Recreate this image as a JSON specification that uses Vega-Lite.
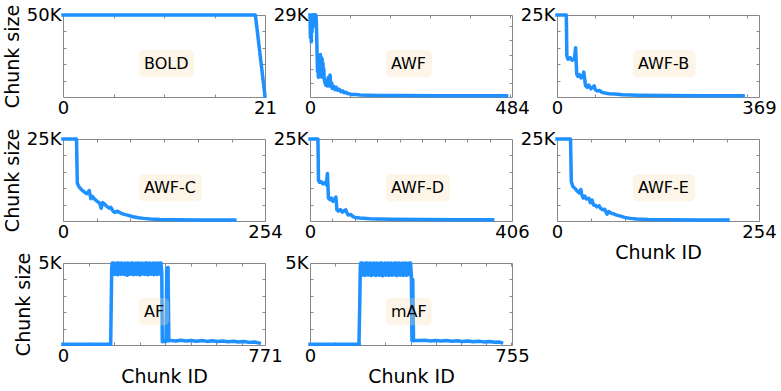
{
"$schema": "https://vega.github.io/schema/vega-lite/v6.json",
"background": "white",
"padding": {"left": 2, "top": 3, "right": 0, "bottom": 0},
"datasets": {
"labels": [
{"panel": "BOLD", "label": "BOLD"},
{"panel": "AWF", "label": "AWF"},
{"panel": "AWF-B", "label": "AWF-B"},
{"panel": "AWF-C", "label": "AWF-C"},
{"panel": "AWF-D", "label": "AWF-D"},
{"panel": "AWF-E", "label": "AWF-E"},
{"panel": "AF", "label": "AF"},
{"panel": "mAF", "label": "mAF"}
],
"BOLD": [
{"chunk":0,"size":50000},{"chunk":1,"size":50000},{"chunk":2,"size":50000},{"chunk":3,"size":50000},{"chunk":4,"size":50000},{"chunk":5,"size":50000},{"chunk":6,"size":50000},{"chunk":7,"size":50000},{"chunk":8,"size":50000},{"chunk":9,"size":50000},{"chunk":10,"size":50000},{"chunk":11,"size":50000},{"chunk":12,"size":50000},{"chunk":13,"size":50000},{"chunk":14,"size":50000},{"chunk":15,"size":50000},{"chunk":16,"size":50000},{"chunk":17,"size":50000},{"chunk":18,"size":50000},{"chunk":19,"size":50000},{"chunk":20,"size":50000},{"chunk":21,"size":500}
],
"AWF": [
{"chunk":0,"size":29000},{"chunk":1,"size":21000},{"chunk":2,"size":28500},{"chunk":3,"size":19500},{"chunk":4,"size":29000},{"chunk":5,"size":23000},{"chunk":6,"size":29000},{"chunk":7,"size":26000},{"chunk":8,"size":29000},{"chunk":9,"size":27000},{"chunk":10,"size":29000},{"chunk":11,"size":28000},{"chunk":12,"size":29000},{"chunk":13,"size":25000},{"chunk":14,"size":29000},{"chunk":15,"size":27500},{"chunk":16,"size":22000},{"chunk":17,"size":15000},{"chunk":18,"size":9000},{"chunk":19,"size":12500},{"chunk":20,"size":7000},{"chunk":21,"size":11000},{"chunk":22,"size":7500},{"chunk":23,"size":14500},{"chunk":24,"size":8000},{"chunk":25,"size":15000},{"chunk":26,"size":7200},{"chunk":27,"size":14000},{"chunk":28,"size":8500},{"chunk":29,"size":13500},{"chunk":30,"size":7000},{"chunk":31,"size":12000},{"chunk":32,"size":7500},{"chunk":33,"size":10000},{"chunk":34,"size":6500},{"chunk":36,"size":5000},{"chunk":38,"size":4200},{"chunk":40,"size":6000},{"chunk":42,"size":3900},{"chunk":44,"size":7000},{"chunk":46,"size":4000},{"chunk":48,"size":7800},{"chunk":50,"size":3600},{"chunk":52,"size":5000},{"chunk":54,"size":3000},{"chunk":57,"size":3800},{"chunk":60,"size":2600},{"chunk":63,"size":3400},{"chunk":66,"size":2400},{"chunk":70,"size":2700},{"chunk":74,"size":1900},{"chunk":78,"size":2200},{"chunk":82,"size":1500},{"chunk":86,"size":1700},{"chunk":90,"size":1200},{"chunk":95,"size":1100},{"chunk":100,"size":900},{"chunk":110,"size":850},{"chunk":120,"size":700},{"chunk":140,"size":620},{"chunk":170,"size":560},{"chunk":220,"size":500},{"chunk":300,"size":460},{"chunk":400,"size":420},{"chunk":471,"size":400}
],
"AWF-B": [
{"chunk":0,"size":25000},{"chunk":10,"size":25000},{"chunk":17,"size":25000},{"chunk":18,"size":12500},{"chunk":20,"size":11500},{"chunk":24,"size":12000},{"chunk":28,"size":11200},{"chunk":32,"size":11800},{"chunk":34,"size":15000},{"chunk":35,"size":11000},{"chunk":36,"size":7000},{"chunk":38,"size":6300},{"chunk":41,"size":6800},{"chunk":44,"size":5800},{"chunk":47,"size":6500},{"chunk":49,"size":7600},{"chunk":50,"size":6200},{"chunk":52,"size":3500},{"chunk":55,"size":3000},{"chunk":58,"size":3600},{"chunk":62,"size":2500},{"chunk":66,"size":3100},{"chunk":68,"size":3400},{"chunk":70,"size":2200},{"chunk":74,"size":1800},{"chunk":78,"size":2000},{"chunk":82,"size":1400},{"chunk":88,"size":1200},{"chunk":95,"size":1000},{"chunk":105,"size":900},{"chunk":120,"size":700},{"chunk":150,"size":550},{"chunk":200,"size":450},{"chunk":260,"size":400},{"chunk":340,"size":350}
],
"AWF-C": [
{"chunk":0,"size":25000},{"chunk":10,"size":25000},{"chunk":17,"size":25000},{"chunk":18,"size":11500},{"chunk":20,"size":10500},{"chunk":23,"size":9600},{"chunk":27,"size":8800},{"chunk":30,"size":8300},{"chunk":33,"size":9300},{"chunk":35,"size":6800},{"chunk":37,"size":7500},{"chunk":40,"size":6600},{"chunk":44,"size":5800},{"chunk":46,"size":5500},{"chunk":48,"size":3900},{"chunk":50,"size":5600},{"chunk":52,"size":5200},{"chunk":55,"size":4500},{"chunk":58,"size":3900},{"chunk":60,"size":4200},{"chunk":63,"size":3000},{"chunk":65,"size":2600},{"chunk":68,"size":3000},{"chunk":72,"size":2500},{"chunk":76,"size":2100},{"chunk":81,"size":1800},{"chunk":88,"size":1300},{"chunk":95,"size":1000},{"chunk":101,"size":800},{"chunk":110,"size":600},{"chunk":122,"size":450},{"chunk":140,"size":350},{"chunk":172,"size":300},{"chunk":216,"size":280}
],
"AWF-D": [
{"chunk":0,"size":25000},{"chunk":8,"size":25000},{"chunk":16,"size":25000},{"chunk":17,"size":12500},{"chunk":19,"size":11800},{"chunk":22,"size":12000},{"chunk":26,"size":11300},{"chunk":30,"size":11800},{"chunk":33,"size":11000},{"chunk":35,"size":14500},{"chunk":36,"size":11000},{"chunk":37,"size":7000},{"chunk":40,"size":6500},{"chunk":43,"size":7000},{"chunk":46,"size":6000},{"chunk":50,"size":6800},{"chunk":52,"size":7300},{"chunk":53,"size":5800},{"chunk":54,"size":3500},{"chunk":57,"size":3000},{"chunk":61,"size":3500},{"chunk":65,"size":2700},{"chunk":69,"size":3200},{"chunk":72,"size":3400},{"chunk":74,"size":2500},{"chunk":77,"size":1800},{"chunk":82,"size":2000},{"chunk":86,"size":1400},{"chunk":90,"size":1100},{"chunk":100,"size":900},{"chunk":120,"size":700},{"chunk":160,"size":550},{"chunk":220,"size":450},{"chunk":300,"size":400},{"chunk":367,"size":350}
],
"AWF-E": [
{"chunk":0,"size":25000},{"chunk":10,"size":25000},{"chunk":17,"size":25000},{"chunk":18,"size":12000},{"chunk":20,"size":10500},{"chunk":23,"size":9800},{"chunk":26,"size":9000},{"chunk":28,"size":8600},{"chunk":30,"size":9600},{"chunk":31,"size":8200},{"chunk":33,"size":7000},{"chunk":35,"size":7600},{"chunk":37,"size":6700},{"chunk":40,"size":6900},{"chunk":42,"size":5600},{"chunk":44,"size":6400},{"chunk":46,"size":4900},{"chunk":48,"size":4800},{"chunk":50,"size":4300},{"chunk":53,"size":4600},{"chunk":55,"size":3800},{"chunk":58,"size":3400},{"chunk":60,"size":3600},{"chunk":62,"size":2600},{"chunk":63,"size":2100},{"chunk":65,"size":2900},{"chunk":68,"size":2400},{"chunk":72,"size":2100},{"chunk":75,"size":1800},{"chunk":80,"size":1500},{"chunk":85,"size":1100},{"chunk":92,"size":800},{"chunk":100,"size":600},{"chunk":115,"size":450},{"chunk":140,"size":380},{"chunk":180,"size":330},{"chunk":215,"size":300}
],
"AF": [
{"chunk":0,"size":40},{"chunk":60,"size":40},{"chunk":120,"size":40},{"chunk":182,"size":40},{"chunk":184,"size":2500},{"chunk":186,"size":4700},{"chunk":188,"size":5000},
{"chunk":191,"size":4330},{"chunk":194,"size":5000},{"chunk":197,"size":4300},{"chunk":200,"size":4950},{"chunk":203,"size":4350},{"chunk":206,"size":5000},{"chunk":209,"size":4280},{"chunk":212,"size":5000},{"chunk":215,"size":4340},{"chunk":218,"size":4980},{"chunk":221,"size":4310},{"chunk":224,"size":5000},{"chunk":227,"size":4360},{"chunk":230,"size":4920},{"chunk":233,"size":4300},{"chunk":236,"size":5000},{"chunk":239,"size":4330},{"chunk":242,"size":4990},{"chunk":245,"size":4250},{"chunk":248,"size":5000},{"chunk":251,"size":4340},{"chunk":254,"size":4960},{"chunk":257,"size":4310},{"chunk":260,"size":5000},{"chunk":263,"size":4370},{"chunk":266,"size":5000},{"chunk":269,"size":4290},{"chunk":272,"size":4940},{"chunk":275,"size":4330},{"chunk":278,"size":5000},{"chunk":281,"size":4300},{"chunk":284,"size":4990},{"chunk":287,"size":4350},{"chunk":290,"size":5000},{"chunk":293,"size":4270},{"chunk":296,"size":4970},{"chunk":299,"size":4320},{"chunk":302,"size":5000},{"chunk":305,"size":4340},{"chunk":308,"size":4950},{"chunk":311,"size":4300},{"chunk":314,"size":5000},{"chunk":317,"size":4360},{"chunk":320,"size":5000},{"chunk":323,"size":4280},{"chunk":326,"size":4980},{"chunk":329,"size":4330},{"chunk":332,"size":5000},{"chunk":335,"size":4310},{"chunk":338,"size":4960},{"chunk":341,"size":4350},{"chunk":344,"size":5000},{"chunk":347,"size":4290},{"chunk":350,"size":4990},{"chunk":353,"size":4330},{"chunk":356,"size":5000},{"chunk":359,"size":4300},{"chunk":362,"size":4970},{"chunk":365,"size":4340},{"chunk":368,"size":5000},{"chunk":371,"size":4320},{"chunk":374,"size":5000},{"chunk":377,"size":4400},
{"chunk":379,"size":200},{"chunk":384,"size":230},{"chunk":389,"size":210},{"chunk":393,"size":220},{"chunk":396,"size":4700},{"chunk":401,"size":4720},{"chunk":404,"size":250},
{"chunk":412,"size":280},{"chunk":430,"size":250},{"chunk":450,"size":290},{"chunk":470,"size":240},{"chunk":490,"size":280},{"chunk":510,"size":230},{"chunk":530,"size":270},{"chunk":550,"size":220},{"chunk":570,"size":260},{"chunk":590,"size":210},{"chunk":610,"size":250},{"chunk":630,"size":200},{"chunk":650,"size":230},{"chunk":670,"size":180},{"chunk":690,"size":210},{"chunk":710,"size":160},{"chunk":730,"size":180},{"chunk":749,"size":120}
],
"mAF": [
{"chunk":0,"size":40},{"chunk":60,"size":40},{"chunk":120,"size":40},{"chunk":183,"size":40},{"chunk":186,"size":2500},{"chunk":188,"size":4800},{"chunk":190,"size":5000},
{"chunk":193,"size":4250},{"chunk":196,"size":5000},{"chunk":199,"size":4300},{"chunk":202,"size":4960},{"chunk":205,"size":4240},{"chunk":208,"size":5000},{"chunk":211,"size":4320},{"chunk":214,"size":5000},{"chunk":217,"size":4260},{"chunk":220,"size":4980},{"chunk":223,"size":4300},{"chunk":226,"size":5000},{"chunk":229,"size":4230},{"chunk":232,"size":4940},{"chunk":235,"size":4310},{"chunk":238,"size":5000},{"chunk":241,"size":4270},{"chunk":244,"size":4990},{"chunk":247,"size":4240},{"chunk":250,"size":5000},{"chunk":253,"size":4330},{"chunk":256,"size":4960},{"chunk":259,"size":4250},{"chunk":262,"size":5000},{"chunk":265,"size":4300},{"chunk":268,"size":5000},{"chunk":271,"size":4220},{"chunk":274,"size":4950},{"chunk":277,"size":4310},{"chunk":280,"size":5000},{"chunk":283,"size":4260},{"chunk":286,"size":4990},{"chunk":289,"size":4280},{"chunk":292,"size":5000},{"chunk":295,"size":4240},{"chunk":298,"size":4970},{"chunk":301,"size":4320},{"chunk":304,"size":5000},{"chunk":307,"size":4250},{"chunk":310,"size":4950},{"chunk":313,"size":4300},{"chunk":316,"size":5000},{"chunk":319,"size":4270},{"chunk":322,"size":5000},{"chunk":325,"size":4230},{"chunk":328,"size":4980},{"chunk":331,"size":4310},{"chunk":334,"size":5000},{"chunk":337,"size":4260},{"chunk":340,"size":4960},{"chunk":343,"size":4290},{"chunk":346,"size":5000},{"chunk":349,"size":4240},{"chunk":352,"size":4990},{"chunk":355,"size":4300},{"chunk":358,"size":5000},{"chunk":361,"size":4250},{"chunk":364,"size":4970},{"chunk":367,"size":4310},{"chunk":370,"size":5000},{"chunk":373,"size":4270},{"chunk":376,"size":5000},
{"chunk":379,"size":4200},{"chunk":381,"size":260},{"chunk":384,"size":4000},{"chunk":387,"size":260},{"chunk":392,"size":280},
{"chunk":410,"size":270},{"chunk":430,"size":290},{"chunk":450,"size":250},{"chunk":470,"size":280},{"chunk":490,"size":240},{"chunk":510,"size":270},{"chunk":530,"size":230},{"chunk":550,"size":260},{"chunk":570,"size":220},{"chunk":590,"size":250},{"chunk":610,"size":200},{"chunk":630,"size":230},{"chunk":650,"size":190},{"chunk":670,"size":210},{"chunk":690,"size":170},{"chunk":705,"size":180},{"chunk":716,"size":140}
]
},
"columns": 3,
"spacing": {"row": 42, "column": 45},
"bounds": "flush",
"concat": [
{
"width": 202, "height": 82,
"resolve": {"axis": {"x": "independent", "y": "independent"}},
"layer": [
{"data": {"name": "BOLD"},
"mark": {"type": "line", "color": "#1E90FF", "strokeWidth": 3.5, "strokeJoin": "round", "strokeCap": "square"},
"encoding": {
"x": {"field": "chunk", "type": "quantitative", "scale": {"domain": [0, 21], "nice": false, "zero": false}, "axis": {"orient": "bottom", "values": [0, 21], "ticks": false, "labelPadding": 2, "labelFlush": false, "labelOverlap": false, "title": null}},
"y": {"field": "size", "type": "quantitative", "scale": {"domain": [0, 50000], "nice": false}, "axis": {"orient": "left", "values": [50000], "labelExpr": "datum.value/1000 + 'K'", "ticks": false, "labelPadding": 2, "title": "Chunk size"}}}},
{"data": {"name": "labels"}, "transform": [{"filter": "datum.panel == 'BOLD'"}],
"mark": {"type": "rect", "fill": "#F5DEB3", "opacity": 0.3, "cornerRadius": 5},
"encoding": {
"x": {"datum": 7.9, "type": "quantitative", "scale": {"domain": [0, 21], "nice": false, "zero": false}, "axis": {"orient": "top", "values": [5.25, 10.5, 15.75], "labels": false, "tickSize": -3, "title": null}},
"x2": {"datum": 13.62},
"y": {"datum": 12000, "type": "quantitative", "scale": {"domain": [0, 50000], "nice": false}, "axis": {"orient": "right", "values": [10000, 20000, 30000, 40000], "labels": false, "tickSize": -3, "title": null}},
"y2": {"datum": 28600}}},
{"data": {"name": "labels"}, "transform": [{"filter": "datum.panel == 'BOLD'"}],
"mark": {"type": "text", "align": "left", "baseline": "middle", "fontSize": 16, "font": "DejaVu Sans", "color": "black"},
"encoding": {
"x": {"datum": 8.42, "type": "quantitative", "scale": {"domain": [0, 21], "nice": false, "zero": false}, "axis": {"orient": "bottom", "values": [5.25, 10.5, 15.75], "labels": false, "tickSize": -3, "title": null}},
"y": {"datum": 20250, "type": "quantitative", "scale": {"domain": [0, 50000], "nice": false}, "axis": {"orient": "left", "values": [10000, 20000, 30000, 40000], "labels": false, "tickSize": -3, "title": null}},
"text": {"field": "label"}}}
]},
{
"width": 202, "height": 82,
"resolve": {"axis": {"x": "independent", "y": "independent"}},
"layer": [
{"data": {"name": "AWF"},
"mark": {"type": "line", "color": "#1E90FF", "strokeWidth": 3.5, "strokeJoin": "round", "strokeCap": "square"},
"encoding": {
"x": {"field": "chunk", "type": "quantitative", "scale": {"domain": [0, 484], "nice": false, "zero": false}, "axis": {"orient": "bottom", "values": [0, 484], "ticks": false, "labelPadding": 2, "labelFlush": false, "labelOverlap": false, "title": null}},
"y": {"field": "size", "type": "quantitative", "scale": {"domain": [0, 29000], "nice": false}, "axis": {"orient": "left", "values": [29000], "labelExpr": "datum.value/1000 + 'K'", "ticks": false, "labelPadding": 2, "title": null}}}},
{"data": {"name": "labels"}, "transform": [{"filter": "datum.panel == 'AWF'"}],
"mark": {"type": "rect", "fill": "#F5DEB3", "opacity": 0.3, "cornerRadius": 5},
"encoding": {
"x": {"datum": 182, "type": "quantitative", "scale": {"domain": [0, 484], "nice": false, "zero": false}, "axis": {"orient": "top", "values": [95.8, 191.7, 287.5, 383.3, 479], "labels": false, "tickSize": -3, "title": null}},
"x2": {"datum": 292.2},
"y": {"datum": 6960, "type": "quantitative", "scale": {"domain": [0, 29000], "nice": false}, "axis": {"orient": "right", "values": [5000, 10000, 15000, 20000, 25000], "labels": false, "tickSize": -3, "title": null}},
"y2": {"datum": 16590}}},
{"data": {"name": "labels"}, "transform": [{"filter": "datum.panel == 'AWF'"}],
"mark": {"type": "text", "align": "left", "baseline": "middle", "fontSize": 16, "font": "DejaVu Sans", "color": "black"},
"encoding": {
"x": {"datum": 194, "type": "quantitative", "scale": {"domain": [0, 484], "nice": false, "zero": false}, "axis": {"orient": "bottom", "values": [95.8, 191.7, 287.5, 383.3, 479], "labels": false, "tickSize": -3, "title": null}},
"y": {"datum": 11745, "type": "quantitative", "scale": {"domain": [0, 29000], "nice": false}, "axis": {"orient": "left", "values": [5000, 10000, 15000, 20000, 25000], "labels": false, "tickSize": -3, "title": null}},
"text": {"field": "label"}}}
]},
{
"width": 202, "height": 82,
"resolve": {"axis": {"x": "independent", "y": "independent"}},
"layer": [
{"data": {"name": "AWF-B"},
"mark": {"type": "line", "color": "#1E90FF", "strokeWidth": 3.5, "strokeJoin": "round", "strokeCap": "square"},
"encoding": {
"x": {"field": "chunk", "type": "quantitative", "scale": {"domain": [0, 369], "nice": false, "zero": false}, "axis": {"orient": "bottom", "values": [0, 369], "ticks": false, "labelPadding": 2, "labelFlush": false, "labelOverlap": false, "title": null}},
"y": {"field": "size", "type": "quantitative", "scale": {"domain": [0, 25000], "nice": false}, "axis": {"orient": "left", "values": [25000], "labelExpr": "datum.value/1000 + 'K'", "ticks": false, "labelPadding": 2, "title": null}}}},
{"data": {"name": "labels"}, "transform": [{"filter": "datum.panel == 'AWF-B'"}],
"mark": {"type": "rect", "fill": "#F5DEB3", "opacity": 0.3, "cornerRadius": 5},
"encoding": {
"x": {"datum": 138.7, "type": "quantitative", "scale": {"domain": [0, 369], "nice": false, "zero": false}, "axis": {"orient": "top", "values": [69.4, 138.8, 208.2, 277.6, 347], "labels": false, "tickSize": -3, "title": null}},
"x2": {"datum": 253.2},
"y": {"datum": 6000, "type": "quantitative", "scale": {"domain": [0, 25000], "nice": false}, "axis": {"orient": "right", "values": [5000, 10000, 15000, 20000], "labels": false, "tickSize": -3, "title": null}},
"y2": {"datum": 14300}}},
{"data": {"name": "labels"}, "transform": [{"filter": "datum.panel == 'AWF-B'"}],
"mark": {"type": "text", "align": "left", "baseline": "middle", "fontSize": 16, "font": "DejaVu Sans", "color": "black"},
"encoding": {
"x": {"datum": 147.9, "type": "quantitative", "scale": {"domain": [0, 369], "nice": false, "zero": false}, "axis": {"orient": "bottom", "values": [69.4, 138.8, 208.2, 277.6, 347], "labels": false, "tickSize": -3, "title": null}},
"y": {"datum": 10125, "type": "quantitative", "scale": {"domain": [0, 25000], "nice": false}, "axis": {"orient": "left", "values": [5000, 10000, 15000, 20000], "labels": false, "tickSize": -3, "title": null}},
"text": {"field": "label"}}}
]},
{
"width": 202, "height": 82,
"resolve": {"axis": {"x": "independent", "y": "independent"}},
"layer": [
{"data": {"name": "AWF-C"},
"mark": {"type": "line", "color": "#1E90FF", "strokeWidth": 3.5, "strokeJoin": "round", "strokeCap": "square"},
"encoding": {
"x": {"field": "chunk", "type": "quantitative", "scale": {"domain": [0, 254], "nice": false, "zero": false}, "axis": {"orient": "bottom", "values": [0, 254], "ticks": false, "labelPadding": 2, "labelFlush": false, "labelOverlap": false, "title": null}},
"y": {"field": "size", "type": "quantitative", "scale": {"domain": [0, 25000], "nice": false}, "axis": {"orient": "left", "values": [25000], "labelExpr": "datum.value/1000 + 'K'", "ticks": false, "labelPadding": 2, "title": "Chunk size"}}}},
{"data": {"name": "labels"}, "transform": [{"filter": "datum.panel == 'AWF-C'"}],
"mark": {"type": "rect", "fill": "#F5DEB3", "opacity": 0.3, "cornerRadius": 5},
"encoding": {
"x": {"datum": 95.5, "type": "quantitative", "scale": {"domain": [0, 254], "nice": false, "zero": false}, "axis": {"orient": "top", "values": [42.4, 84.8, 127.2, 169.6, 212], "labels": false, "tickSize": -3, "title": null}},
"x2": {"datum": 174.6},
"y": {"datum": 6000, "type": "quantitative", "scale": {"domain": [0, 25000], "nice": false}, "axis": {"orient": "right", "values": [5000, 10000, 15000, 20000], "labels": false, "tickSize": -3, "title": null}},
"y2": {"datum": 14300}}},
{"data": {"name": "labels"}, "transform": [{"filter": "datum.panel == 'AWF-C'"}],
"mark": {"type": "text", "align": "left", "baseline": "middle", "fontSize": 16, "font": "DejaVu Sans", "color": "black"},
"encoding": {
"x": {"datum": 101.8, "type": "quantitative", "scale": {"domain": [0, 254], "nice": false, "zero": false}, "axis": {"orient": "bottom", "values": [42.4, 84.8, 127.2, 169.6, 212], "labels": false, "tickSize": -3, "title": null}},
"y": {"datum": 10125, "type": "quantitative", "scale": {"domain": [0, 25000], "nice": false}, "axis": {"orient": "left", "values": [5000, 10000, 15000, 20000], "labels": false, "tickSize": -3, "title": null}},
"text": {"field": "label"}}}
]},
{
"width": 202, "height": 82,
"resolve": {"axis": {"x": "independent", "y": "independent"}},
"layer": [
{"data": {"name": "AWF-D"},
"mark": {"type": "line", "color": "#1E90FF", "strokeWidth": 3.5, "strokeJoin": "round", "strokeCap": "square"},
"encoding": {
"x": {"field": "chunk", "type": "quantitative", "scale": {"domain": [0, 406], "nice": false, "zero": false}, "axis": {"orient": "bottom", "values": [0, 406], "ticks": false, "labelPadding": 2, "labelFlush": false, "labelOverlap": false, "title": null}},
"y": {"field": "size", "type": "quantitative", "scale": {"domain": [0, 25000], "nice": false}, "axis": {"orient": "left", "values": [25000], "labelExpr": "datum.value/1000 + 'K'", "ticks": false, "labelPadding": 2, "title": null}}}},
{"data": {"name": "labels"}, "transform": [{"filter": "datum.panel == 'AWF-D'"}],
"mark": {"type": "rect", "fill": "#F5DEB3", "opacity": 0.3, "cornerRadius": 5},
"encoding": {
"x": {"datum": 152.7, "type": "quantitative", "scale": {"domain": [0, 406], "nice": false, "zero": false}, "axis": {"orient": "top", "values": [45.2, 90.4, 135.6, 180.8, 226, 271.2, 316.4, 361.6], "labels": false, "tickSize": -3, "title": null}},
"x2": {"datum": 281.3},
"y": {"datum": 6000, "type": "quantitative", "scale": {"domain": [0, 25000], "nice": false}, "axis": {"orient": "right", "values": [5000, 10000, 15000, 20000], "labels": false, "tickSize": -3, "title": null}},
"y2": {"datum": 14300}}},
{"data": {"name": "labels"}, "transform": [{"filter": "datum.panel == 'AWF-D'"}],
"mark": {"type": "text", "align": "left", "baseline": "middle", "fontSize": 16, "font": "DejaVu Sans", "color": "black"},
"encoding": {
"x": {"datum": 162.7, "type": "quantitative", "scale": {"domain": [0, 406], "nice": false, "zero": false}, "axis": {"orient": "bottom", "values": [45.2, 90.4, 135.6, 180.8, 226, 271.2, 316.4, 361.6], "labels": false, "tickSize": -3, "title": null}},
"y": {"datum": 10125, "type": "quantitative", "scale": {"domain": [0, 25000], "nice": false}, "axis": {"orient": "left", "values": [5000, 10000, 15000, 20000], "labels": false, "tickSize": -3, "title": null}},
"text": {"field": "label"}}}
]},
{
"width": 202, "height": 82,
"resolve": {"axis": {"x": "independent", "y": "independent"}},
"layer": [
{"data": {"name": "AWF-E"},
"mark": {"type": "line", "color": "#1E90FF", "strokeWidth": 3.5, "strokeJoin": "round", "strokeCap": "square"},
"encoding": {
"x": {"field": "chunk", "type": "quantitative", "scale": {"domain": [0, 254], "nice": false, "zero": false}, "axis": {"orient": "bottom", "values": [0, 254], "ticks": false, "labelPadding": 2, "labelFlush": false, "labelOverlap": false, "title": "Chunk ID", "titlePadding": 2}},
"y": {"field": "size", "type": "quantitative", "scale": {"domain": [0, 25000], "nice": false}, "axis": {"orient": "left", "values": [25000], "labelExpr": "datum.value/1000 + 'K'", "ticks": false, "labelPadding": 2, "title": null}}}},
{"data": {"name": "labels"}, "transform": [{"filter": "datum.panel == 'AWF-E'"}],
"mark": {"type": "rect", "fill": "#F5DEB3", "opacity": 0.3, "cornerRadius": 5},
"encoding": {
"x": {"datum": 95.5, "type": "quantitative", "scale": {"domain": [0, 254], "nice": false, "zero": false}, "axis": {"orient": "top", "values": [42.7, 85.4, 128.1, 170.8, 213.5], "labels": false, "tickSize": -3, "title": null}},
"x2": {"datum": 173.2},
"y": {"datum": 6000, "type": "quantitative", "scale": {"domain": [0, 25000], "nice": false}, "axis": {"orient": "right", "values": [5000, 10000, 15000, 20000], "labels": false, "tickSize": -3, "title": null}},
"y2": {"datum": 14300}}},
{"data": {"name": "labels"}, "transform": [{"filter": "datum.panel == 'AWF-E'"}],
"mark": {"type": "text", "align": "left", "baseline": "middle", "fontSize": 16, "font": "DejaVu Sans", "color": "black"},
"encoding": {
"x": {"datum": 101.8, "type": "quantitative", "scale": {"domain": [0, 254], "nice": false, "zero": false}, "axis": {"orient": "bottom", "values": [42.7, 85.4, 128.1, 170.8, 213.5], "labels": false, "tickSize": -3, "title": null}},
"y": {"datum": 10125, "type": "quantitative", "scale": {"domain": [0, 25000], "nice": false}, "axis": {"orient": "left", "values": [5000, 10000, 15000, 20000], "labels": false, "tickSize": -3, "title": null}},
"text": {"field": "label"}}}
]},
{
"width": 202, "height": 82,
"resolve": {"axis": {"x": "independent", "y": "independent"}},
"layer": [
{"data": {"name": "AF"},
"mark": {"type": "line", "color": "#1E90FF", "strokeWidth": 3.5, "strokeJoin": "round", "strokeCap": "square"},
"encoding": {
"x": {"field": "chunk", "type": "quantitative", "scale": {"domain": [0, 771], "nice": false, "zero": false}, "axis": {"orient": "bottom", "values": [0, 771], "ticks": false, "labelPadding": 2, "labelFlush": false, "labelOverlap": false, "title": "Chunk ID", "titlePadding": 2}},
"y": {"field": "size", "type": "quantitative", "scale": {"domain": [0, 5000], "nice": false}, "axis": {"orient": "left", "values": [5000], "labelExpr": "datum.value/1000 + 'K'", "ticks": false, "labelPadding": 2, "title": "Chunk size"}}}},
{"data": {"name": "labels"}, "transform": [{"filter": "datum.panel == 'AF'"}],
"mark": {"type": "rect", "fill": "#F5DEB3", "opacity": 0.3, "cornerRadius": 5},
"encoding": {
"x": {"datum": 289.9, "type": "quantitative", "scale": {"domain": [0, 771], "nice": false, "zero": false}, "axis": {"orient": "top", "values": [97.6, 195.2, 292.8, 390.4, 488, 585.6, 683.2], "labels": false, "tickSize": -3, "title": null}},
"x2": {"datum": 404.8},
"y": {"datum": 1200, "type": "quantitative", "scale": {"domain": [0, 5000], "nice": false}, "axis": {"orient": "right", "values": [1000, 2000, 3000, 4000], "labels": false, "tickSize": -3, "title": null}},
"y2": {"datum": 2860}}},
{"data": {"name": "labels"}, "transform": [{"filter": "datum.panel == 'AF'"}],
"mark": {"type": "text", "align": "left", "baseline": "middle", "fontSize": 16, "font": "DejaVu Sans", "color": "black"},
"encoding": {
"x": {"datum": 309, "type": "quantitative", "scale": {"domain": [0, 771], "nice": false, "zero": false}, "axis": {"orient": "bottom", "values": [97.6, 195.2, 292.8, 390.4, 488, 585.6, 683.2], "labels": false, "tickSize": -3, "title": null}},
"y": {"datum": 2025, "type": "quantitative", "scale": {"domain": [0, 5000], "nice": false}, "axis": {"orient": "left", "values": [1000, 2000, 3000, 4000], "labels": false, "tickSize": -3, "title": null}},
"text": {"field": "label"}}}
]},
{
"width": 202, "height": 82,
"resolve": {"axis": {"x": "independent", "y": "independent"}},
"layer": [
{"data": {"name": "mAF"},
"mark": {"type": "line", "color": "#1E90FF", "strokeWidth": 3.5, "strokeJoin": "round", "strokeCap": "square"},
"encoding": {
"x": {"field": "chunk", "type": "quantitative", "scale": {"domain": [0, 755], "nice": false, "zero": false}, "axis": {"orient": "bottom", "values": [0, 755], "ticks": false, "labelPadding": 2, "labelFlush": false, "labelOverlap": false, "title": "Chunk ID", "titlePadding": 2}},
"y": {"field": "size", "type": "quantitative", "scale": {"domain": [0, 5000], "nice": false}, "axis": {"orient": "left", "values": [5000], "labelExpr": "datum.value/1000 + 'K'", "ticks": false, "labelPadding": 2, "title": null}}}},
{"data": {"name": "labels"}, "transform": [{"filter": "datum.panel == 'mAF'"}],
"mark": {"type": "rect", "fill": "#F5DEB3", "opacity": 0.3, "cornerRadius": 5},
"encoding": {
"x": {"datum": 283.9, "type": "quantitative", "scale": {"domain": [0, 755], "nice": false, "zero": false}, "axis": {"orient": "top", "values": [94, 188, 282, 376, 470, 564, 658, 752], "labels": false, "tickSize": -3, "title": null}},
"x2": {"datum": 454.7},
"y": {"datum": 1200, "type": "quantitative", "scale": {"domain": [0, 5000], "nice": false}, "axis": {"orient": "right", "values": [1000, 2000, 3000, 4000], "labels": false, "tickSize": -3, "title": null}},
"y2": {"datum": 2860}}},
{"data": {"name": "labels"}, "transform": [{"filter": "datum.panel == 'mAF'"}],
"mark": {"type": "text", "align": "left", "baseline": "middle", "fontSize": 16, "font": "DejaVu Sans", "color": "black"},
"encoding": {
"x": {"datum": 302.6, "type": "quantitative", "scale": {"domain": [0, 755], "nice": false, "zero": false}, "axis": {"orient": "bottom", "values": [94, 188, 282, 376, 470, 564, 658, 752], "labels": false, "tickSize": -3, "title": null}},
"y": {"datum": 2025, "type": "quantitative", "scale": {"domain": [0, 5000], "nice": false}, "axis": {"orient": "left", "values": [1000, 2000, 3000, 4000], "labels": false, "tickSize": -3, "title": null}},
"text": {"field": "label"}}}
]}
],
"config": {
"font": "DejaVu Sans",
"view": {"stroke": "#888888", "strokeWidth": 1},
"axis": {"labelFont": "DejaVu Sans", "titleFont": "DejaVu Sans", "labelFontSize": 18, "titleFontSize": 19, "titleFontWeight": "normal", "labelColor": "black", "titleColor": "black", "domain": false, "grid": false, "tickColor": "#888888", "tickWidth": 1, "titlePadding": 4}
}
}
